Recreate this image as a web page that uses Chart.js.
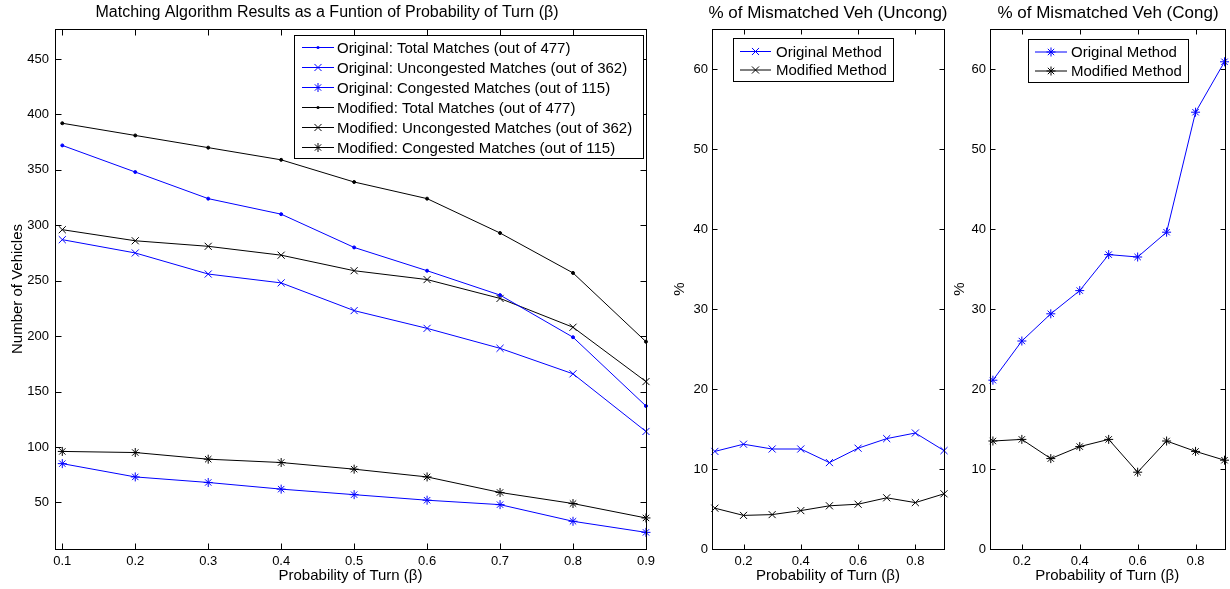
<!DOCTYPE html>
<html>
<head>
<meta charset="utf-8">
<script src="https://cdn.jsdelivr.net/npm/chart.js@4.4.0/dist/chart.umd.min.js"></script>
<style>
  body { margin: 0; background: #fff; width: 1230px; height: 589px; overflow: hidden; position: relative; }
  .pane { position: absolute; top: 0; height: 589px; }
</style>
</head>
<body>
<div class="pane" style="left:0;width:660px"><canvas id="matches"></canvas></div>
<div class="pane" style="left:660px;width:290px"><canvas id="uncong"></canvas></div>
<div class="pane" style="left:950px;width:280px"><canvas id="cong"></canvas></div>
<script>
// probability of turn
var beta = [0.1, 0.2, 0.3, 0.4, 0.5, 0.6, 0.7, 0.8, 0.9];

// number of matched vehicles
var origTotal  = [372, 348, 324, 310, 280, 259, 237, 199, 137];
var origUncong = [287, 275, 256, 248, 223, 207, 189, 166, 114];
var origCong   = [85, 73, 68, 62, 57, 52, 48, 33, 23];
var modTotal   = [392, 381, 370, 359, 339, 324, 293, 257, 195];
var modUncong  = [296, 286, 281, 273, 259, 251, 234, 208, 159];
var modCong    = [96, 95, 89, 86, 80, 73, 59, 49, 36];

// % of mismatched vehicles
var origPctUncong = [12.2, 13.1, 12.5, 12.5, 10.8, 12.6, 13.8, 14.5, 12.3];
var modPctUncong  = [5.1, 4.2, 4.3, 4.8, 5.4, 5.6, 6.4, 5.8, 6.9];
var origPctCong   = [21.1, 26.0, 29.4, 32.3, 36.8, 36.5, 39.6, 54.6, 60.9];
var modPctCong    = [13.5, 13.7, 11.3, 12.8, 13.7, 9.6, 13.5, 12.2, 11.1];

// tick labels
var xTicksWide  = [0.1, 0.2, 0.3, 0.4, 0.5, 0.6, 0.7, 0.8, 0.9];
var xTicksNarrow = [0.2, 0.4, 0.6, 0.8];
var yTicksCount = [50, 100, 150, 200, 250, 300, 350, 400, 450];
var yTicksPct   = [0, 10, 20, 30, 40, 50, 60];

var BLUE = '#0000ff';
var BLACK = '#000000';
Chart.defaults.font.family = "'Liberation Sans', Arial, Helvetica, sans-serif";
Chart.defaults.color = '#000';

function marker(ctx, style, r, x, y) {
  ctx.beginPath();
  if (style === 'circle') {
    ctx.arc(x, y, r, 0, 2 * Math.PI);
    ctx.fill();
    return;
  }
  var d = r * Math.SQRT1_2;
  ctx.moveTo(x - d, y - d); ctx.lineTo(x + d, y + d);
  ctx.moveTo(x - d, y + d); ctx.lineTo(x + d, y - d);
  if (style === 'star') {
    ctx.moveTo(x - r, y); ctx.lineTo(x + r, y);
    ctx.moveTo(x, y - r); ctx.lineTo(x, y + r);
  }
  ctx.stroke();
}

// box, inward ticks on all sides, title and legend in the old matlab look
var matlabAxes = {
  id: 'matlabAxes',
  afterDraw: function (chart, args, o) {
    var ctx = chart.ctx, a = chart.chartArea;
    var xs = chart.scales.x, ys = chart.scales.y;
    var L = Math.round(a.left) + 0.5, R = Math.round(a.right) + 0.5;
    var T = Math.round(a.top) + 0.5, B = Math.round(a.bottom) + 0.5;
    ctx.save();
    ctx.strokeStyle = '#000';
    ctx.lineWidth = 1;
    ctx.beginPath();
    xs.ticks.forEach(function (t) {
      var px = Math.round(xs.getPixelForValue(t.value)) + 0.5;
      ctx.moveTo(px, B); ctx.lineTo(px, B - o.tick);
      ctx.moveTo(px, T); ctx.lineTo(px, T + o.tick);
    });
    ys.ticks.forEach(function (t) {
      var py = Math.round(ys.getPixelForValue(t.value)) + 0.5;
      ctx.moveTo(L, py); ctx.lineTo(L + o.tick, py);
      ctx.moveTo(R, py); ctx.lineTo(R - o.tick, py);
    });
    ctx.stroke();
    ctx.strokeRect(L, T, R - L, B - T);

    ctx.fillStyle = '#000';
    ctx.font = o.titleSize + "px 'Liberation Sans', Arial, sans-serif";
    ctx.textAlign = 'center';
    ctx.textBaseline = 'middle';
    ctx.fillText(o.title, o.titleX, o.titleY);

    var lg = o.legend;
    ctx.fillStyle = '#fff';
    ctx.fillRect(lg.x, lg.y, lg.w, lg.h);
    ctx.strokeRect(lg.x + 0.5, lg.y + 0.5, lg.w, lg.h);
    ctx.font = lg.size + "px 'Liberation Sans', Arial, sans-serif";
    ctx.textAlign = 'left';
    chart.data.datasets.forEach(function (d, i) {
      var y = lg.y0 + i * lg.dy;
      ctx.strokeStyle = d.borderColor;
      ctx.fillStyle = d.borderColor;
      ctx.beginPath();
      ctx.moveTo(lg.x1, y); ctx.lineTo(lg.x2, y);
      ctx.stroke();
      marker(ctx, d.pointStyle, d.pointRadius, (lg.x1 + lg.x2) / 2, y);
      ctx.fillStyle = '#000';
      ctx.fillText(d.label, lg.tx, y + 1);
    });
    ctx.restore();
  }
};

function series(label, values, color, style, r) {
  return {
    label: label,
    data: beta.map(function (b, i) { return { x: b, y: values[i] }; }),
    borderColor: color,
    backgroundColor: color,
    borderWidth: 1,
    pointStyle: style,
    pointRadius: r,
    pointHoverRadius: r,
    pointBorderWidth: 1,
    pointBorderColor: color,
    pointBackgroundColor: color,
    clip: false
  };
}

function xAxis(ticks) {
  return {
    type: 'linear', min: 0.09, max: 0.9,
    afterBuildTicks: function (s) { s.ticks = ticks.map(function (v) { return { value: v }; }); },
    afterFit: function (s) { s.height = 40; },
    grid: { display: false, drawTicks: false },
    border: { display: false },
    ticks: { padding: 5, maxRotation: 0, autoSkip: false, font: { size: 13 },
      callback: function (v) { return v.toFixed(1); } },
    title: { display: true, text: 'Probability of Turn (\u03b2)', font: { size: 15 }, padding: { top: 0, bottom: 4 } }
  };
}

function yAxis(min, max, ticks, width, text, pad, tickPad) {
  return {
    type: 'linear', min: min, max: max,
    afterBuildTicks: function (s) { s.ticks = ticks.map(function (v) { return { value: v }; }); },
    afterFit: function (s) { s.width = width; },
    grid: { display: false, drawTicks: false },
    border: { display: false },
    ticks: { padding: tickPad, autoSkip: false, font: { size: 13 } },
    title: { display: true, text: text, font: { size: 15 }, padding: { top: pad, bottom: 0 } }
  };
}

function makeChart(id, datasets, xs, ys, padRight, axesOpts) {
  return new Chart(document.getElementById(id), {
    type: 'line',
    data: { datasets: datasets },
    options: {
      responsive: true,
      maintainAspectRatio: false,
      animation: false,
      events: [],
      layout: { padding: { left: 0, right: padRight, top: 29, bottom: 0 } },
      scales: { x: xs, y: ys },
      plugins: { legend: { display: false }, tooltip: { enabled: false }, matlabAxes: axesOpts }
    },
    plugins: [matlabAxes]
  });
}

makeChart('matches', [
  series('Original: Total Matches (out of 477)', origTotal, BLUE, 'circle', 1.5),
  series('Original: Uncongested Matches (out of 362)', origUncong, BLUE, 'crossRot', 5),
  series('Original: Congested Matches (out of 115)', origCong, BLUE, 'star', 4.5),
  series('Modified: Total Matches (out of 477)', modTotal, BLACK, 'circle', 1.5),
  series('Modified: Uncongested Matches (out of 362)', modUncong, BLACK, 'crossRot', 5),
  series('Modified: Congested Matches (out of 115)', modCong, BLACK, 'star', 4.5)
], xAxis(xTicksWide), yAxis(8, 477, yTicksCount, 55, 'Number of Vehicles', 9, 6), 13, {
  tick: 6,
  title: 'Matching Algorithm Results as a Funtion of Probability of Turn (\u03b2)',
  titleX: 327, titleY: 13, titleSize: 16,
  legend: { x: 294, y: 35, w: 349, h: 123, y0: 47.5, dy: 20, x1: 302, x2: 334, tx: 337, size: 15 }
});

makeChart('uncong', [
  series('Original Method', origPctUncong, BLUE, 'crossRot', 5),
  series('Modified Method', modPctUncong, BLACK, 'crossRot', 5)
], xAxis(xTicksNarrow), yAxis(0, 65, yTicksPct, 52, '%', 11, 4), 5, {
  tick: 5,
  title: '% of Mismatched Veh (Uncong)',
  titleX: 168, titleY: 13, titleSize: 17,
  legend: { x: 73, y: 38, w: 160, h: 43, y0: 51.5, dy: 18.5, x1: 80, x2: 111, tx: 116, size: 15 }
});

makeChart('cong', [
  series('Original Method', origPctCong, BLUE, 'star', 4.5),
  series('Modified Method', modPctCong, BLACK, 'star', 4.5)
], xAxis(xTicksNarrow), yAxis(0, 65, yTicksPct, 40, '%', 1, 4), 5, {
  tick: 5,
  title: '% of Mismatched Veh (Cong)',
  titleX: 158, titleY: 13, titleSize: 17,
  legend: { x: 78, y: 39, w: 160, h: 43, y0: 52, dy: 19, x1: 85, x2: 117, tx: 121, size: 15 }
});
</script>
</body>
</html>
